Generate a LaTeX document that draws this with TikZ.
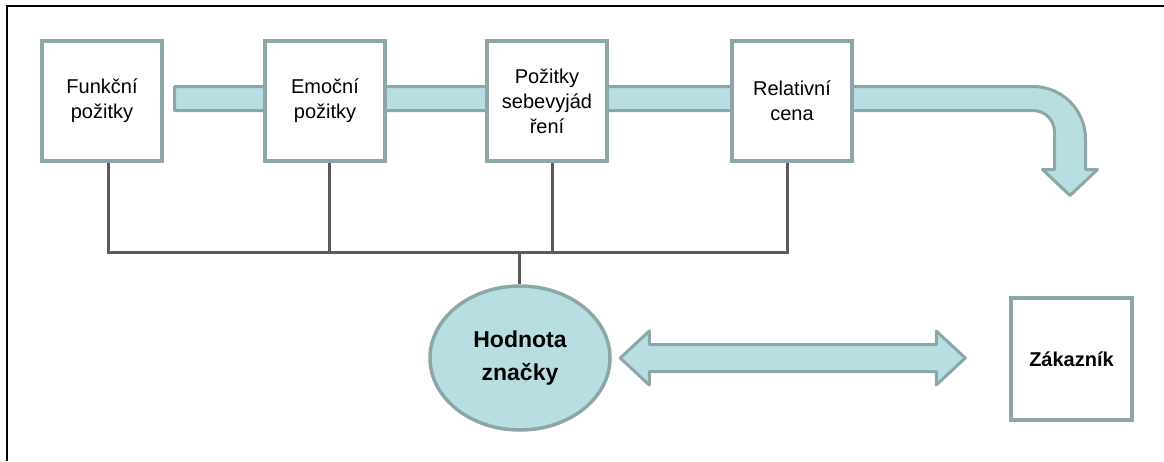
\documentclass[tikz,border=0pt]{standalone}
\usepackage{fontspec}
\setmainfont{Liberation Sans}
\usepackage{tikz}
\usetikzlibrary{positioning,shapes.geometric}

\definecolor{barfill}{HTML}{B8DEE1}
\definecolor{barline}{HTML}{8DA6A8}
\definecolor{linkgray}{HTML}{5A5A5A}

\begin{document}
\begin{tikzpicture}[%
  x=1pt, y=-1pt,
  benefit/.style={draw=barline, line width=4pt, fill=white,
    minimum width=120pt, minimum height=120pt, align=center,
    font=\fontsize{20}{25}\selectfont},
  bar/.style={draw=barline, fill=barfill, line width=3pt, line join=round},
  link/.style={draw=linkgray, line width=3pt}]
  \useasboundingbox (0,0) rectangle (1164,461);
  \draw[line width=2pt] (7,461) -- (7,6) -- (1164,6);

  \draw[bar] (174.5,86.5) -- (1033,86.5)
    .. controls (1062,86.5) and (1085.5,110) .. (1085.5,139)
    -- (1085.5,169.5) -- (1097.5,169.5) -- (1070,195.5) -- (1042.5,169.5)
    -- (1054.5,169.5) -- (1054.5,132)
    .. controls (1054.5,120) and (1045,110.5) .. (1033,110.5)
    -- (174.5,110.5) -- cycle;

  \node[benefit] (funkcni) at (102,101) {Funkční\\požitky};
  \node[benefit, right=99pt of funkcni] (emocni) {Emoční\\požitky};
  \node[benefit, right=98pt of emocni] (sebe) {Požitky\\sebevyjád\\ření};
  \node[benefit, right=121pt of sebe] (relativni) {Relativní\\cena};

  \node[ellipse, draw=barline, fill=barfill, line width=3.5pt,
    minimum width=180pt, minimum height=144pt, align=center,
    font=\bfseries\fontsize{23}{33}\selectfont] (hodnota) at (520,358) {Hodnota\\značky};
  \node[benefit, minimum width=121pt, minimum height=122pt,
    font=\bfseries\fontsize{20}{24}\selectfont] (zakaznik) at (1071.5,359) {Zákazník};

  \coordinate (bus) at (519,252);
  \draw[link] ([xshift=6pt]funkcni.south) |- (bus) -- (bus |- hodnota.north);
  \draw[link] ([xshift=4.5pt]emocni.south) -- ([xshift=4.5pt]emocni.south |- bus);
  \draw[link] ([xshift=5pt]sebe.south) -- ([xshift=5pt]sebe.south |- bus);
  \draw[link] ([xshift=-5pt]relativni.south) |- (bus);

  \draw[bar] ([xshift=8.5pt]hodnota.east) -- ++(29,-27) -- ++(0,13.5)
    -- ++(287,0) -- ++(0,-13.5) -- ++(29,27) -- ++(-29,27) -- ++(0,-13.5)
    -- ++(-287,0) -- ++(0,13.5) -- cycle;
\end{tikzpicture}
\end{document}
